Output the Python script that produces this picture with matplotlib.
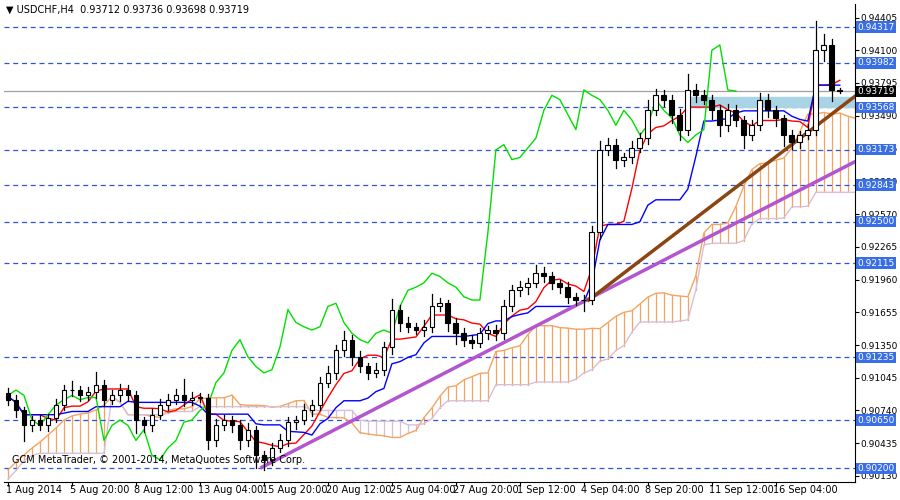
import numpy as np
import pandas as pd
import matplotlib
matplotlib.use("Agg")
import matplotlib.pyplot as plt

# USDCHF H4, one candle per 8 px (two H4 bars)
closes = [.9084, .9074, .9060, .9065, .9060, .9067, .9079, .9093, .9093, .9088,
          .9091, .9098, .9084, .9088, .9093, .9088, .9065, .9060, .9070, .9079,
          .9084, .9088, .9084, .9086, .9086, .9046, .9060, .9065, .9060, .9046,
          .9056, .9032, .9028, .9039, .9046, .9063, .9065, .9074, .9079, .9100,
          .9109, .9130, .9140, .9124, .9115, .9109, .9112, .9133, .9168, .9156,
          .9152, .9149, .9152, .9171, .9174, .9156, .9146, .9140, .9137, .9146,
          .9149, .9146, .9171, .9186, .9189, .9193, .9202, .9199, .9193, .9189,
          .9180, .9177, .9177, .9240, .9317, .9322, .9308, .9310, .9319, .9328,
          .9354, .9368, .9364, .9350, .9336, .9373, .9368, .9364, .9354, .9340,
          .9354, .9345, .9331, .9340, .9364, .9354, .9347, .9331, .9324, .9331,
          .9336, .9410, .9415, .9373, .9372]
first_open = .9090
# wick extensions in pips
hi_ext = [5, 4, 3, 4, 5, 4, 6, 5, 8, 4, 5, 12, 4, 5, 6, 5, 4, 3, 5, 6,
          5, 6, 15, 5, 4, 3, 6, 5, 4, 5, 6, 3, 4, 5, 6, 5, 4, 6, 5, 5,
          6, 5, 8, 4, 5, 3, 6, 5, 10, 4, 5, 4, 6, 12, 5, 3, 4, 5, 4, 5,
          4, 5, 6, 5, 6, 5, 8, 6, 4, 3, 5, 4, 5, 6, 8, 6, 5, 4, 6, 5,
          10, 6, 5, 4, 5, 15, 6, 5, 4, 5, 6, 5, 4, 5, 6, 5, 4, 3, 5, 4,
          5, 27, 10, 6, 2]
lo_ext = [5, 6, 15, 5, 4, 5, 4, 5, 6, 5, 4, 5, 6, 4, 5, 5, 12, 6, 5, 4,
          5, 4, 6, 5, 4, 8, 5, 4, 6, 8, 5, 12, 10, 5, 4, 5, 6, 4, 5, 5,
          4, 6, 5, 8, 5, 6, 4, 5, 6, 8, 5, 4, 6, 5, 4, 8, 10, 6, 5, 4,
          5, 6, 5, 4, 5, 6, 4, 5, 6, 5, 6, 5, 10, 4, 6, 5, 8, 6, 5, 4,
          5, 4, 6, 8, 10, 5, 6, 4, 8, 10, 5, 6, 12, 5, 4, 6, 8, 10, 6, 5,
          4, 5, 10, 10, 2]

# leading cloud values left of the first computable point
span_a_pre = [.90184, .90259, .90324, .90389, .90445, .90510, .90576, .90650,
              .90688, .90706, .90716, .90744, .90790]
span_b_pre = [.9010, .9018, .9027, .9032, .9034, .9034, .9034, .9034, .9034,
              .9034, .9034, .9034, .9034]

levels = [0.94317, 0.93982, 0.93568, 0.93173, 0.92843, 0.92500, 0.92115,
          0.91235, 0.90650, 0.90200]
last_price = 0.93719
yticks = [0.94405, 0.94100, 0.93795, 0.93490, 0.93185, 0.92880, 0.92570,
          0.92265, 0.91960, 0.91655, 0.91350, 0.91045, 0.90740, 0.90435, 0.90130]
xlabels = ["1 Aug 2014", "5 Aug 20:00", "8 Aug 12:00", "13 Aug 04:00",
           "15 Aug 20:00", "20 Aug 12:00", "25 Aug 04:00", "27 Aug 20:00",
           "1 Sep 12:00", "4 Sep 04:00", "8 Sep 20:00", "11 Sep 12:00",
           "16 Sep 04:00"]
brown_line = ([72.6, 106.4], [0.9177, 0.9370])
purple_line = ([31.75, 106.4], [0.9021, 0.9308])
zone = (0.93568, 0.93660, 85.0)

c = np.array(closes)
o = np.concatenate([[first_open], c[:-1]])
h = np.maximum(o, c) + np.array(hi_ext) / 10000
l = np.minimum(o, c) - np.array(lo_ext) / 10000
n = len(c)
idx = np.arange(n)

hs, ls = pd.Series(h), pd.Series(l)
tenkan = (hs.rolling(5, min_periods=1).max() + ls.rolling(5, min_periods=1).min()) / 2
kijun = (hs.rolling(13, min_periods=1).max() + ls.rolling(13, min_periods=1).min()) / 2
sb = (hs.rolling(26, min_periods=1).max() + ls.rolling(26, min_periods=1).min()) / 2
span_a = np.concatenate([span_a_pre, ((tenkan + kijun) / 2).values])
span_b = np.concatenate([span_b_pre, sb.values])
cloud_x = np.arange(len(span_a))

fig = plt.figure(figsize=(9, 5), dpi=100)
ax = fig.add_axes([4 / 900, 18 / 500, 851 / 900, 478 / 500])
ymax, ymin = 0.94532, 0.90072
ax.set_ylim(ymin, ymax)
ax.set_xlim(-0.5, 105.9)

# cloud
for i in cloud_x:
    col = "#f4a460" if span_a[i] >= span_b[i] else "#d8bfd8"
    ax.plot([i, i], [span_a[i], span_b[i]], color=col, lw=0.9, zorder=1)
ax.plot(cloud_x, span_a, color="#f4a460", lw=1, zorder=2)
ax.plot(cloud_x, span_b, color="#d8bfd8", lw=1, zorder=2)

# levels
for lv in levels:
    ax.axhline(lv, color="#2f56d8", ls=(0, (4, 3)), lw=0.9, zorder=1)
ax.axhline(last_price, color="#a0a0a0", lw=0.9, zorder=1)
ax.fill_between([zone[2], 106.4], zone[0], zone[1], color="#a8d4e6", zorder=1)

ax.plot(idx, tenkan, color="red", lw=1, zorder=3)
ax.plot(idx, kijun, color="blue", lw=1, zorder=3)
ax.plot(idx[:-13], c[13:], color="#00e000", lw=1, zorder=3)

ax.plot(*purple_line, color="#b455d0", lw=2.5, zorder=4)
ax.plot(*brown_line, color="#8b4513", lw=2.5, zorder=4)

# candles
for i in idx:
    ax.plot([i, i], [l[i], h[i]], color="black", lw=0.9, zorder=5)
    bull = c[i] >= o[i]
    lo_b = min(o[i], c[i])
    hgt = max(abs(c[i] - o[i]), 0.00003)
    ax.add_patch(plt.Rectangle((i - 0.3, lo_b), 0.6, hgt,
                               facecolor="white" if bull else "black",
                               edgecolor="black", lw=0.8, zorder=6))

# right axis
ax.yaxis.tick_right()
ax.set_yticks(yticks)
ax.set_yticklabels([f"{t:.5f}" for t in yticks])
ax.tick_params(axis="y", labelsize=6.5, length=3, pad=1)
ax.set_xticks(range(0, 97, 8))
ax.set_xticklabels([])
ax.tick_params(axis="x", length=3)
for k, lab in enumerate(xlabels):
    ax.text(k * 8 - 0.3, -0.006, lab, transform=ax.get_xaxis_transform(),
            fontsize=7, ha="left", va="top")
for s in ["top", "left"]:
    ax.spines[s].set_visible(False)

box = dict(boxstyle="square,pad=0.12", lw=0)
for lv in levels:
    ax.text(1.003, lv, f"{lv:.5f}", transform=ax.get_yaxis_transform(),
            fontsize=6.5, color="white", va="center", ha="left",
            bbox={**box, "fc": "#3a6ee6"}, zorder=10)
ax.text(1.003, last_price, f"{last_price:.5f}", transform=ax.get_yaxis_transform(),
        fontsize=6.5, color="white", va="center", ha="left",
        bbox={**box, "fc": "black"}, zorder=10)

fig.text(6 / 900, 1 - 10 / 500, "▼ USDCHF,H4  0.93712 0.93736 0.93698 0.93719",
         fontsize=7, va="center")
ax.text(0.5, 0.9028, "GCM MetaTrader, © 2001-2014, MetaQuotes Software Corp.",
        fontsize=7, va="center", zorder=7)

fig.savefig("out.png", dpi=100)
